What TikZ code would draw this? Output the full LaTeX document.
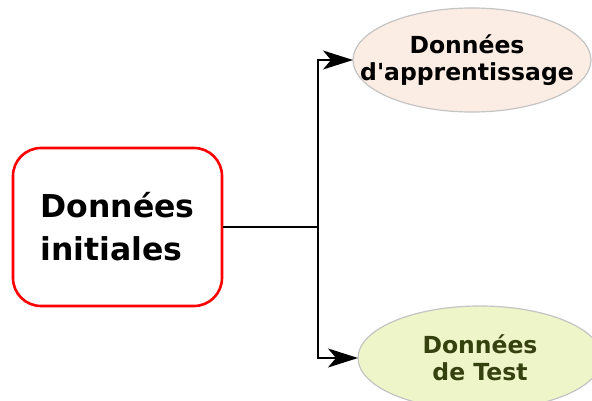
\documentclass[tikz,border=0pt]{standalone}
\usepackage{fontspec}
\setmainfont{DejaVu Sans}
\usetikzlibrary{shapes.geometric,arrows.meta}
\definecolor{peach}{HTML}{FBEDE3}
\definecolor{lime}{HTML}{EEF5C9}
\definecolor{olive}{HTML}{35420F}
\definecolor{edgegrey}{HTML}{C4C4C4}
\tikzset{
  mainbox/.style={draw=red, line width=2.6pt, rounded corners=28pt, fill=white,
    minimum width=209pt, minimum height=158pt, inner sep=0pt, align=left,
    font=\fontsize{31.5pt}{43pt}\selectfont\bfseries},
  dataell/.style={ellipse, draw=edgegrey, line width=1.2pt, inner sep=0pt, outer sep=0pt,
    minimum width=238pt, minimum height=104pt},
  elltext/.style={align=center, inner sep=0pt,
    font=\fontsize{23.5pt}{27pt}\selectfont\bfseries},
  conn/.style={line width=1.6pt, black},
  arr/.style={conn, -{Stealth[length=30pt,width=19pt,inset=8pt]}}
}
\begin{document}
\begin{tikzpicture}[x=1pt,y=1pt]
\useasboundingbox (0,0) rectangle (592,-401);
\clip (0,0) rectangle (592,-401);
\node[mainbox] (init) at (117.5,-227) {Données\\initiales};
\node[dataell, fill=peach] (train) at (472,-60) {};
\node[elltext] (traint) at (467,-60) {Données\\d\textquotesingle apprentissage};
\node[dataell, fill=lime, minimum width=244pt] (test) at (480,-358) {};
\node[elltext, text=olive] (testt) at (480,-358) {Données\\de Test};
\coordinate (j) at (318,-227);
\draw[conn] (init.east) -- (j);
\draw[arr] (j) |- (train.west);
\draw[arr] (j) |- (test.west);
\end{tikzpicture}
\end{document}
